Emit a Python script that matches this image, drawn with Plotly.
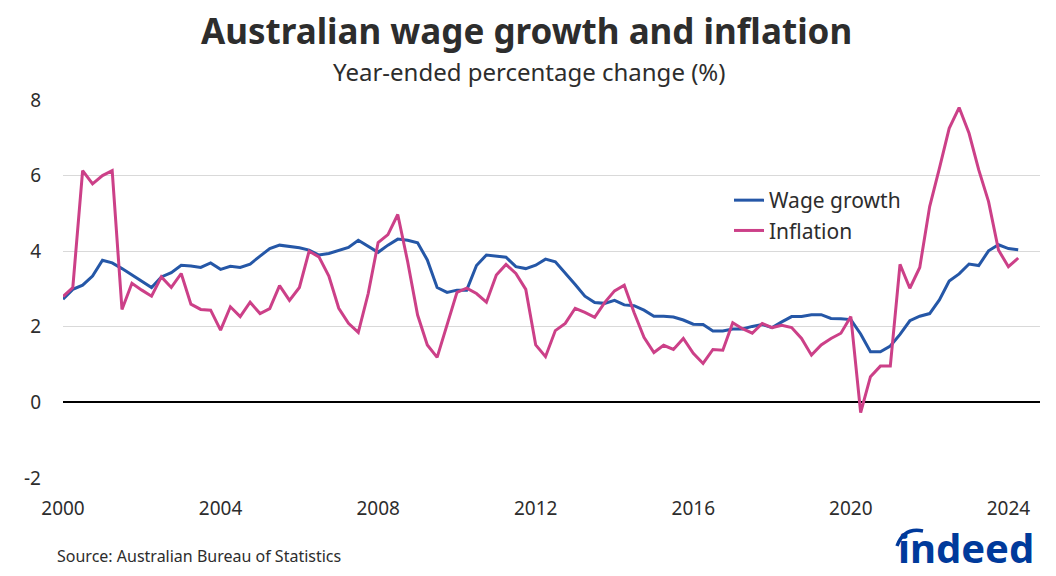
import plotly.graph_objects as go
import pandas as pd

quarters = pd.date_range("2000-01-01", periods=98, freq="QS")

wage_growth = [
    2.73, 2.99, 3.10, 3.34, 3.76, 3.69, 3.54, 3.37, 3.21, 3.04,
    3.32, 3.43, 3.63, 3.61, 3.57, 3.69, 3.52, 3.60, 3.57, 3.66,
    3.87, 4.07, 4.16, 4.13, 4.09, 4.03, 3.90, 3.94, 4.03, 4.10,
    4.29, 4.12, 3.97, 4.16, 4.32, 4.29, 4.22, 3.77, 3.04, 2.91,
    2.97, 2.97, 3.62, 3.90, 3.87, 3.84, 3.59, 3.54, 3.63, 3.79,
    3.72, 3.43, 3.12, 2.81, 2.64, 2.62, 2.70, 2.58, 2.56, 2.44,
    2.28, 2.28, 2.26, 2.18, 2.07, 2.06, 1.89, 1.89, 1.94, 1.94,
    2.01, 2.06, 1.98, 2.13, 2.27, 2.27, 2.32, 2.32, 2.22, 2.21,
    2.19, 1.81, 1.34, 1.34, 1.49, 1.80, 2.16, 2.28, 2.35, 2.71,
    3.21, 3.40, 3.66, 3.62, 4.01, 4.17, 4.07, 4.04,
]

inflation = [
    2.80, 3.04, 6.13, 5.78, 6.00, 6.13, 2.46, 3.15, 2.97, 2.81,
    3.32, 3.04, 3.41, 2.60, 2.46, 2.44, 1.91, 2.53, 2.27, 2.65,
    2.35, 2.48, 3.09, 2.70, 3.04, 4.00, 3.85, 3.34, 2.49, 2.09,
    1.85, 2.88, 4.23, 4.44, 4.97, 3.72, 2.31, 1.52, 1.19, 2.05,
    2.91, 3.02, 2.88, 2.65, 3.37, 3.65, 3.41, 2.99, 1.52, 1.21,
    1.90, 2.09, 2.49, 2.38, 2.25, 2.64, 2.95, 3.10, 2.38, 1.72,
    1.32, 1.51, 1.40, 1.69, 1.30, 1.03, 1.40, 1.38, 2.11, 1.95,
    1.83, 2.09, 1.98, 2.04, 1.98, 1.69, 1.25, 1.52, 1.69, 1.83,
    2.27, -0.27, 0.68, 0.96, 0.96, 3.65, 3.02, 3.57, 5.18, 6.19,
    7.25, 7.80, 7.12, 6.15, 5.31, 4.03, 3.59, 3.82,
]

x_tick_years = ["2000", "2004", "2008", "2012", "2016", "2020", "2024"]
y_ticks = [-2, 0, 2, 4, 6, 8]
y_tick_labels = ["-2", "0", "2", "4", "6", "8"]

BLUE = "#2557A7"
PINK = "#CC4088"
TEXT = "#2d2d2d"
FONT = "Noto Sans"

W, H = 1056, 576
L, R, T, B = 63, 16, 100, 98
PW, PH = W - L - R, H - T - B


def px(xs):
    return (xs - L) / PW


def py(ys):
    return (H - B - ys) / PH


fig = go.Figure()
fig.add_trace(go.Scatter(x=quarters, y=wage_growth, name="Wage growth", mode="lines",
                         line=dict(color=BLUE, width=3)))
fig.add_trace(go.Scatter(x=quarters, y=inflation, name="Inflation", mode="lines",
                         line=dict(color=PINK, width=3)))

fig.update_layout(
    width=W, height=H,
    margin=dict(l=L, r=R, t=T, b=B),
    paper_bgcolor="white", plot_bgcolor="white",
    font=dict(family=FONT, color=TEXT),
    showlegend=True,
    legend=dict(x=px(729), y=py(180), xanchor="left", yanchor="top",
                font=dict(size=21, color=TEXT), bgcolor="rgba(0,0,0,0)",
                itemwidth=30, tracegroupgap=0),
    xaxis=dict(
        type="date",
        range=["2000-01-01", "2024-10-20"],
        tickvals=[f"{y}-01-01" for y in x_tick_years],
        ticktext=x_tick_years,
        showgrid=False, zeroline=False, showline=False, ticks="",
        tickfont=dict(size=19, color=TEXT),
        ticklabelstandoff=17,
    ),
    yaxis=dict(
        range=[-2, 8],
        tickvals=y_ticks,
        ticktext=y_tick_labels,
        showgrid=True, gridcolor="#d9d9d9", gridwidth=1,
        zeroline=True, zerolinecolor="black", zerolinewidth=1.5,
        showline=False, ticks="",
        tickfont=dict(size=19, color=TEXT),
        ticklabelstandoff=21,
    ),
)

annotations = [
    dict(text="<b>Australian wage growth and inflation</b>", x=px(526), xref="paper",
         y=py(30), yref="paper", xanchor="center", yanchor="middle",
         showarrow=False, font=dict(size=35, color=TEXT, family=FONT)),
    dict(text="Year-ended percentage change (%)", x=px(529), xref="paper",
         y=py(71), yref="paper", xanchor="center", yanchor="middle",
         showarrow=False, font=dict(size=24, color=TEXT, family=FONT)),
    dict(text="Source: Australian Bureau of Statistics", x=px(55), xref="paper",
         y=py(556), yref="paper", xanchor="left", yanchor="middle",
         showarrow=False, font=dict(size=16, color=TEXT, family=FONT)),
    dict(text="<b>indeed</b>", x=px(1035), xref="paper",
         y=py(576), yref="paper", xanchor="right", yanchor="bottom",
         borderpad=0,
         showarrow=False, font=dict(size=40, color="#003A9B", family=FONT)),
]
fig.update_layout(annotations=annotations)

# Indeed logo arc
arc = f"M {px(897)} {py(546)} Q {px(904)} {py(527)} {px(923)} {py(531)}"
fig.add_shape(type="path", path=arc, xref="paper", yref="paper",
              line=dict(color="#003A9B", width=3.5))

fig.write_html("out.html", config={"displayModeBar": False},
               post_script="document.body.style.margin='0';")
